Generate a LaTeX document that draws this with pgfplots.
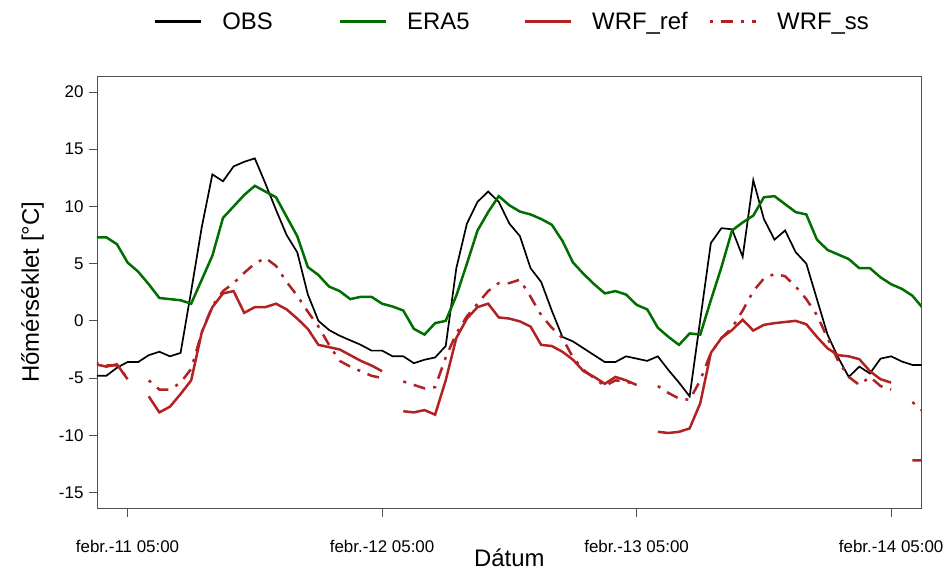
\documentclass[border=0pt]{standalone}
\usepackage{pgfplots}
\pgfplotsset{compat=1.18}
\usepackage{pgfplotstable}
\usepackage{fontspec}
\setmainfont{Liberation Sans}
\definecolor{eragreen}{RGB}{0,110,0}
\definecolor{wrfred}{RGB}{178,34,34}
\definecolor{axgray}{RGB}{80,80,80}

\pgfplotstableread{
h obs era ref ss
-3 -4.8 7.3 -3.8 -3.7
-2 -4.8 7.3 -4.0 -3.9
-1 -4.1 6.7 -3.8 -3.9
0 -3.6 5.1 -5.1 -5.0
1 -3.6 4.3 nan nan
2 -3.0 3.2 -6.6 -5.2
3 -2.7 2.0 -8.0 -6.0
4 -3.1 1.9 -7.5 -6.0
5 -2.8 1.8 -6.4 -5.4
6 2.6 1.5 -5.2 -4.2
7 8.2 3.6 -1.0 -1.0
8 12.8 5.7 1.2 1.3
9 12.2 9.0 2.4 2.6
10 13.5 10.0 2.6 3.3
11 13.9 11.0 0.7 4.2
12 14.2 11.8 1.2 5.0
13 12.0 11.3 1.2 5.5
14 9.7 10.8 1.5 4.8
15 7.5 9.1 1.0 3.4
16 6.0 7.4 0.2 2.2
17 2.3 4.7 -0.7 0.8
18 0.0 4.0 -2.1 -0.5
19 -0.8 3.0 -2.3 -2.1
20 -1.3 2.6 -2.5 -3.5
21 -1.7 1.9 -3.0 -4.0
22 -2.1 2.1 -3.5 -4.4
23 -2.6 2.1 -3.9 -4.8
24 -2.6 1.5 -4.4 -5.0
25 -3.1 1.25 nan nan
26 -3.1 0.9 -7.9 -5.3
27 -3.7 -0.7 -8.0 -5.6
28 -3.4 -1.2 -7.8 -5.9
29 -3.2 -0.2 -8.2 -5.8
30 -2.2 0.0 -5.2 -3.2
31 4.6 2.2 -1.5 -1.1
32 8.5 5.0 0.2 0.4
33 10.4 7.9 1.2 1.5
34 11.3 9.5 1.5 2.6
35 10.4 10.9 0.3 3.3
36 8.5 10.1 0.2 3.3
37 7.4 9.55 -0.05 3.6
38 4.6 9.3 -0.5 2.1
39 3.4 8.9 -2.1 0.5
40 0.9 8.4 -2.2 -0.6
41 -1.4 7.0 -2.7 -1.5
42 -1.8 5.1 -3.4 -3.2
43 -2.4 4.1 -4.4 -4.3
44 -3.0 3.2 -4.9 -5.0
45 -3.6 2.4 -5.5 -5.7
46 -3.6 2.6 -4.9 -5.2
47 -3.1 2.3 -5.2 -5.3
48 -3.3 1.4 -5.6 -5.6
49 -3.5 1.0 nan nan
50 -3.1 -0.6 -9.7 -5.7
51 -4.3 -1.4 -9.8 -6.3
52 -5.4 -2.1 -9.7 -6.8
53 -6.6 -1.1 -9.4 -6.9
54 0.1 -1.2 -7.2 -5.2
55 6.8 1.8 -2.8 -2.8
56 8.1 4.7 -1.5 -1.5
57 8.0 7.9 -0.8 -0.6
58 5.6 8.6 0.1 0.9
59 12.3 9.2 -0.85 2.6
60 8.9 10.8 -0.35 3.7
61 7.1 10.9 -0.2 4.1
62 7.9 10.2 -0.1 3.9
63 6.0 9.5 0.0 3.0
64 5.0 9.3 -0.3 1.9
65 1.9 7.1 -1.4 0.5
66 -1.2 6.2 -2.4 -1.5
67 -3.2 5.8 -3.0 -3.5
68 -4.9 5.4 -3.1 -4.9
69 -4.0 4.6 -3.35 -5.6
70 -4.6 4.6 -4.4 -4.9
71 -3.3 3.8 -5.1 -5.7
72 -3.1 3.2 -5.4 -6.0
73 -3.55 2.8 nan nan
74 -3.85 2.2 -12.2 -7.1
75 -3.85 1.1 -12.2 -7.9
}\tempdata

\begin{document}
\begin{tikzpicture}
\useasboundingbox (-97bp,-63.5bp) rectangle (849bp,508.5bp);
\begin{axis}[
  at={(0,0)}, anchor=south west,
  width=824.7bp, height=432.5bp, scale only axis,
  xmin=-2.88, xmax=74.88, ymin=-16.4, ymax=21.4,
  unbounded coords=jump,
  xtick={0,24,48,72},
  xticklabels={febr.-11 05:00, febr.-12 05:00, febr.-13 05:00, febr.-14 05:00},
  ytick={-15,-10,-5,0,5,10,15,20},
  yticklabels={-15,-10,-5,0,5,10,15,20},
  xtick pos=bottom, ytick pos=left,
  tick align=outside, major tick length=8bp,
  tick style={axgray, line width=0.9bp},
  axis line style={axgray, line width=0.9bp},
  ticklabel style={font=\fontsize{17}{20}\selectfont},
  xticklabel style={anchor=north, yshift=-20bp},
  yticklabel style={anchor=east, xshift=-2bp},
  xlabel={Dátum}, ylabel={Hőmérséklet [°C]},
  label style={font=\fontsize{24}{28}\selectfont},
  xlabel style={at={(axis description cs:0.5,-0.134)}, anchor=base, inner sep=0pt},
  ylabel style={at={(axis description cs:-0.078,0.5)}, anchor=center},
  legend columns=4,
  legend style={draw=none, fill=none, inner sep=0pt,
    at={(axis description cs:0.0680,1.125)}, anchor=west,
    font=\fontsize{24}{28}\selectfont,
    /tikz/every odd column/.append style={column sep=18bp},
    /tikz/every even column/.append style={column sep=14bp}},
  legend image code/.code={\draw[#1, line width=3bp] (0bp,0bp) -- (46bp,0bp);},
]
\addplot[black, line width=1.7bp] table[x=h, y=obs] {\tempdata};
\addlegendentry{\makebox[100bp][l]{OBS}}
\addplot[eragreen, line width=2.5bp] table[x=h, y=era] {\tempdata};
\addlegendentry{\makebox[100bp][l]{ERA5}}
\addplot[wrfred, line width=2.5bp] table[x=h, y=ref] {\tempdata};
\addlegendentry{\makebox[100bp][l]{WRF\_ref}}
\addplot[wrfred, line width=2.5bp, dash pattern=on 3bp off 8bp on 12bp off 8bp] table[x=h, y=ss] {\tempdata};
\addlegendentry{\makebox[100bp][l]{WRF\_ss}}
\end{axis}
\end{tikzpicture}
\end{document}
